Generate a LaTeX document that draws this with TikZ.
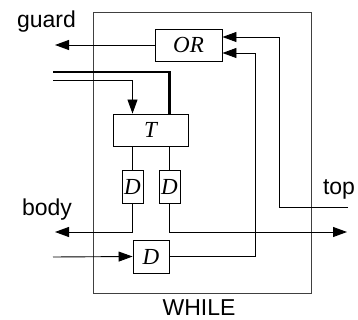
\documentclass[tikz,border=0pt]{standalone}
\usepackage{fontspec}
\setmainfont{Liberation Serif}
\setsansfont{Liberation Sans}
\usetikzlibrary{arrows.meta}
\begin{document}
\begin{tikzpicture}[x=1pt,y=-1pt,
  line width=0.9pt,
  arr/.style={-{Triangle[length=14pt,width=10pt]}},
  blk/.style={draw,inner sep=0pt,font=\fontsize{23}{26}\selectfont\itshape},
  lbl/.style={font=\sffamily\fontsize{23}{27}\selectfont,anchor=base,inner sep=0pt}]
\useasboundingbox (0,0) rectangle (358,320);
\node[draw=black!75,minimum width=218pt,minimum height=281pt,inner sep=0pt] (while) at (202,152.5) {};
\node[blk,minimum width=67pt,minimum height=32pt] (OR) at (188.5,45) {OR};
\node[blk,minimum width=75pt,minimum height=32pt] (T) at (150.5,130) {T};
\node[blk,minimum width=21pt,minimum height=33pt] (D1) at (132.5,186.5) {D};
\node[blk,minimum width=21pt,minimum height=33pt] (D2) at (169.5,186.5) {D};
\node[blk,minimum width=36pt,minimum height=33pt] (D3) at (151,256.5) {D};
\node[lbl] (guard) at (46.5,28) {guard};
\node[lbl] (body) at (47,215) {body};
\node[lbl] (top) at (339,194) {top};
\node[lbl] (wl) at (199,315) {WHILE};
\coordinate (gout) at (55,45);
\coordinate (bout) at (55,232);
\coordinate (oout) at (347,232);
\coordinate (topin) at (348,207);
\coordinate (c1) at (279,37);
\coordinate (c2) at (255,53);
\coordinate (thickin) at (53,72);
\coordinate (thinin) at (53,80);
\coordinate (d3in) at (53,257);
\draw[arr] (OR.west |- gout) -- (gout);
\draw[arr] (topin) -| (c1) -- (c1 -| OR.east);
\draw[arr] (D3.east) -| (c2) -- (c2 -| OR.east);
\draw[line width=2.2pt] (thickin) -| (T.north -| D2);
\draw[arr] (thinin) -| (T.north -| D1);
\draw (T.south -| D1) -- (D1.north);
\draw (T.south -| D2) -- (D2.north);
\draw[arr] (D1.south) |- (bout);
\draw[arr] (D2.south) |- (oout);
\draw[arr] (d3in) -- (D3.west);
\end{tikzpicture}
\end{document}
